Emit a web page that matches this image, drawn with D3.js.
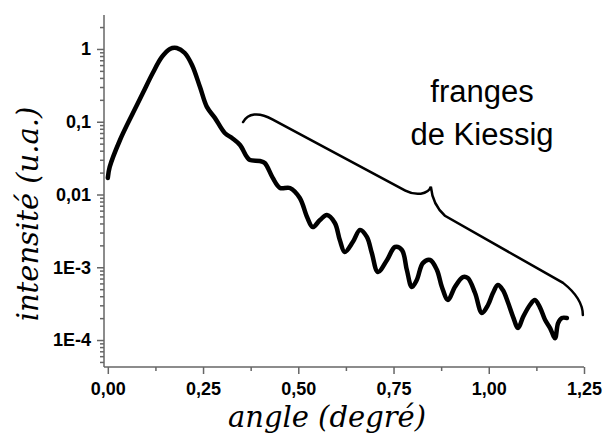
<!DOCTYPE html>
<html>
<head>
<meta charset="utf-8">
<script src="https://cdn.jsdelivr.net/npm/d3@7"></script>
<style>
  body { margin: 0; background: #fff; }
  svg { display: block; }
  .tick text { font-family: 'Liberation Sans', Arial, sans-serif; font-weight: bold; font-size: 18px; fill: #000; }
  .axis path, .axis line { stroke: #666; stroke-width: 1.5px; }
  .title { font-family: 'DejaVu Serif', serif; font-style: italic; font-size: 29px; fill: #000; }
  .note { font-family: 'Liberation Sans', Arial, sans-serif; font-size: 31px; fill: #000; }
</style>
</head>
<body>
<div id="d3-container"></div>
<script>
// measured reflectivity curve
const angle = [
  0.00, 0.005, 0.032, 0.066, 0.092, 0.118, 0.142, 0.163, 0.181, 0.202,
  0.221, 0.242, 0.260, 0.281, 0.307, 0.326, 0.347, 0.365, 0.373, 0.399,
  0.412, 0.433, 0.452, 0.478, 0.504, 0.523, 0.538, 0.557, 0.575, 0.596,
  0.609, 0.622, 0.643, 0.662, 0.680, 0.693, 0.709, 0.733, 0.754, 0.772,
  0.785, 0.798, 0.811, 0.827, 0.846, 0.864, 0.877, 0.893, 0.911, 0.932,
  0.945, 0.964, 0.982, 0.998, 1.011, 1.024, 1.037, 1.050, 1.064, 1.077,
  1.090, 1.108, 1.121, 1.134, 1.148, 1.161, 1.174, 1.182, 1.192, 1.205
]
const intensity = [
  0.0169, 0.0239, 0.0561, 0.132, 0.248, 0.468, 0.776, 1.0, 1.03, 0.881,
  0.603, 0.300, 0.160, 0.113, 0.070, 0.0598, 0.0479, 0.0328, 0.0298, 0.0289,
  0.0271, 0.0169, 0.0123, 0.0123, 0.00895, 0.00491, 0.00357, 0.00446, 0.00522, 0.00406,
  0.00237, 0.00162, 0.00222, 0.00325, 0.00261, 0.00157, 0.000861, 0.00126, 0.00190, 0.00173,
  0.000917, 0.000535, 0.000668, 0.00114, 0.00126, 0.000917, 0.000535, 0.000355, 0.000535, 0.000734,
  0.000711, 0.000443, 0.000235, 0.000303, 0.000443, 0.000570, 0.000486, 0.000333, 0.000207, 0.000146,
  0.000207, 0.000303, 0.000355, 0.000284, 0.000188, 0.000146, 0.000106, 0.000171, 0.000201, 0.000201
]

const xTicks = [0, 0.25, 0.5, 0.75, 1.0, 1.25]
const xTickLabels = ['0,00', '0,25', '0,50', '0,75', '1,00', '1,25']
const yTicks = [1e-4, 1e-3, 1e-2, 1e-1, 1]
const yTickLabels = ['1E-4', '1E-3', '0,01', '0,1', '1']

// brace over the fringes: [angle, intensity] nodes
const braceStart = [0.355, 0.099]
const braceC1 = [0.368, 0.13]
const braceC2 = [0.395, 0.138]
const braceTop = [0.432, 0.108]
const braceMidIn = [0.781, 0.0113]
const braceMidC1 = [0.807, 0.0096]
const braceMidC2 = [0.841, 0.0099]
const braceTip = [0.848, 0.0128]
const braceTipC1 = [0.851, 0.0089]
const braceTipC2 = [0.862, 0.0065]
const braceMidOut = [0.885, 0.0051]
const braceEndIn = [1.195, 0.00061]
const braceEndC1 = [1.227, 0.00045]
const braceEndC2 = [1.247, 0.00033]
const braceEnd = [1.247, 0.00022]

const params = { width: 603, height: 435, left: 104, right: 584, top: 15, bottom: 367 }

const x = d3.scaleLinear().domain([-0.01, 1.25]).range([params.left, params.right])
const y = d3.scaleLog().domain([4.26e-5, 2.93]).range([params.bottom, params.top])

const svg = d3.select('#d3-container')
  .append('svg')
  .attr('width', params.width)
  .attr('height', params.height)

// minor ticks
const yMinor = []
for (let e = -5; e <= 0; e++) {
  for (let m = 2; m <= 9; m++) {
    const v = m * Math.pow(10, e)
    if (v >= y.domain()[0] && v <= y.domain()[1]) yMinor.push(v)
  }
}
const xMinor = [0.125, 0.375, 0.625, 0.875, 1.125]

svg.append('g')
  .attr('class', 'axis')
  .attr('transform', `translate(${params.left},0)`)
  .call(d3.axisLeft(y).tickValues(yMinor).tickSize(4).tickFormat(''))
  .call(g => g.select('.domain').remove())

svg.append('g')
  .attr('class', 'axis')
  .attr('transform', `translate(0,${params.bottom})`)
  .call(d3.axisBottom(x).tickValues(xMinor).tickSize(4).tickFormat(''))
  .call(g => g.select('.domain').remove())

svg.append('g')
  .attr('class', 'axis')
  .attr('transform', `translate(${params.left},0)`)
  .call(d3.axisLeft(y).tickValues(yTicks).tickSize(7).tickPadding(6)
    .tickFormat((d, i) => yTickLabels[i]))
  .call(g => g.select('.domain').attr('d', `M0,${params.top}V${params.bottom}`))

svg.append('g')
  .attr('class', 'axis')
  .attr('transform', `translate(0,${params.bottom})`)
  .call(d3.axisBottom(x).tickValues(xTicks).tickSize(7).tickPadding(8)
    .tickFormat((d, i) => xTickLabels[i]))
  .call(g => g.select('.domain').attr('d', `M${params.left},0H${params.right}`))

// curve
const points = angle.map((a, i) => [a, intensity[i]])
svg.append('path')
  .datum(points)
  .attr('fill', 'none')
  .attr('stroke', '#000')
  .attr('stroke-width', 4.5)
  .attr('stroke-linejoin', 'round')
  .attr('stroke-linecap', 'round')
  .attr('d', d3.line().curve(d3.curveCatmullRom.alpha(0.5)).x(d => x(d[0])).y(d => y(d[1])))

// brace
const P = p => [x(p[0]), y(p[1])]
const bp = d3.path()
bp.moveTo(...P(braceStart))
bp.bezierCurveTo(...P(braceC1), ...P(braceC2), ...P(braceTop))
bp.lineTo(...P(braceMidIn))
bp.bezierCurveTo(...P(braceMidC1), ...P(braceMidC2), ...P(braceTip))
bp.bezierCurveTo(...P(braceTipC1), ...P(braceTipC2), ...P(braceMidOut))
bp.lineTo(...P(braceEndIn))
bp.bezierCurveTo(...P(braceEndC1), ...P(braceEndC2), ...P(braceEnd))
svg.append('path')
  .attr('d', bp.toString())
  .attr('fill', 'none')
  .attr('stroke', '#000')
  .attr('stroke-width', 2.5)
  .attr('stroke-linecap', 'round')

// annotation
svg.append('text').attr('class', 'note')
  .attr('x', 482).attr('y', 102).attr('text-anchor', 'middle')
  .text('franges')
svg.append('text').attr('class', 'note')
  .attr('x', 482).attr('y', 145).attr('text-anchor', 'middle')
  .text('de Kiessig')

// axis titles
svg.append('text').attr('class', 'title')
  .attr('text-anchor', 'middle')
  .attr('transform', 'translate(38,214) rotate(-90)')
  .text('intensité (u.a.)')
svg.append('text').attr('class', 'title')
  .attr('x', 327).attr('y', 427).attr('text-anchor', 'middle')
  .text('angle (degré)')
</script>
</body>
</html>
